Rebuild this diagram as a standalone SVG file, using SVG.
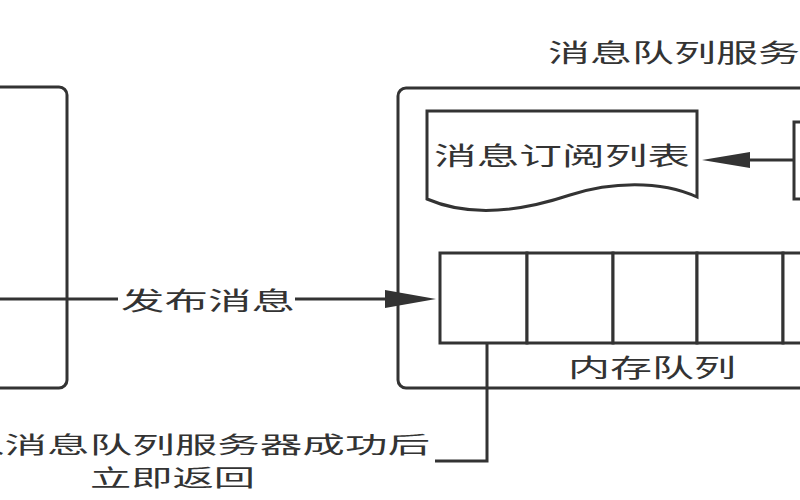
<svg xmlns="http://www.w3.org/2000/svg" width="800" height="500" viewBox="0 0 800 500">
<defs>
<style>
.box{fill:#fff;stroke:#333;stroke-width:3}
.ln{fill:none;stroke:#333;stroke-width:3}
.t{font-family:"Noto Sans CJK SC","Noto Sans",sans-serif;fill:#333;font-size:25px}
.s{font-size:23px}
</style>
</defs>
<rect width="800" height="500" fill="#fff"/>
<g id="left-node">
<rect class="box" x="-20" y="87" width="87" height="301" rx="8"/>
</g>
<g id="mq-server">
<rect class="box" x="398" y="88" width="430" height="300" rx="8"/>
<text class="t" x="548" y="62" textLength="252" lengthAdjust="spacingAndGlyphs">消息队列服务</text>
</g>
<g id="sub-list">
<path class="box" d="M427,111 H697 V197 C660,180 610,182 570,195 C540,205 480,222 427,199 Z"/>
<text class="t" x="434" y="165" textLength="256" lengthAdjust="spacingAndGlyphs">消息订阅列表</text>
</g>
<g id="right-node">
<rect class="box" x="794" y="122" width="40" height="77"/>
</g>
<g id="memory-queue">
<rect class="box" x="440" y="253" width="87" height="90"/>
<rect class="box" x="527" y="253" width="86" height="90"/>
<rect class="box" x="613" y="253" width="84" height="90"/>
<rect class="box" x="697" y="253" width="86" height="90"/>
<rect class="box" x="783" y="253" width="50" height="90"/>
<text class="t" x="568" y="377" textLength="168" lengthAdjust="spacingAndGlyphs">内存队列</text>
</g>
<g id="connectors">
<path class="ln" d="M0,299 H118"/>
<path class="ln" d="M295,299 H386"/>
<path d="M385,290 L436,299 L385,308 Z" fill="#333"/>
<text class="t" x="121" y="310" textLength="174" lengthAdjust="spacingAndGlyphs">发布消息</text>
<path class="ln" d="M794,160 H750"/>
<path d="M750,152 L702,160 L750,168 Z" fill="#333"/>
<path class="ln" d="M487,343 V461 H435"/>
<text class="t s" x="-38" y="453" textLength="468" lengthAdjust="spacingAndGlyphs">入消息队列服务器成功后</text>
<text class="t s" x="90" y="486" textLength="165" lengthAdjust="spacingAndGlyphs">立即返回</text>
</g>
</svg>
